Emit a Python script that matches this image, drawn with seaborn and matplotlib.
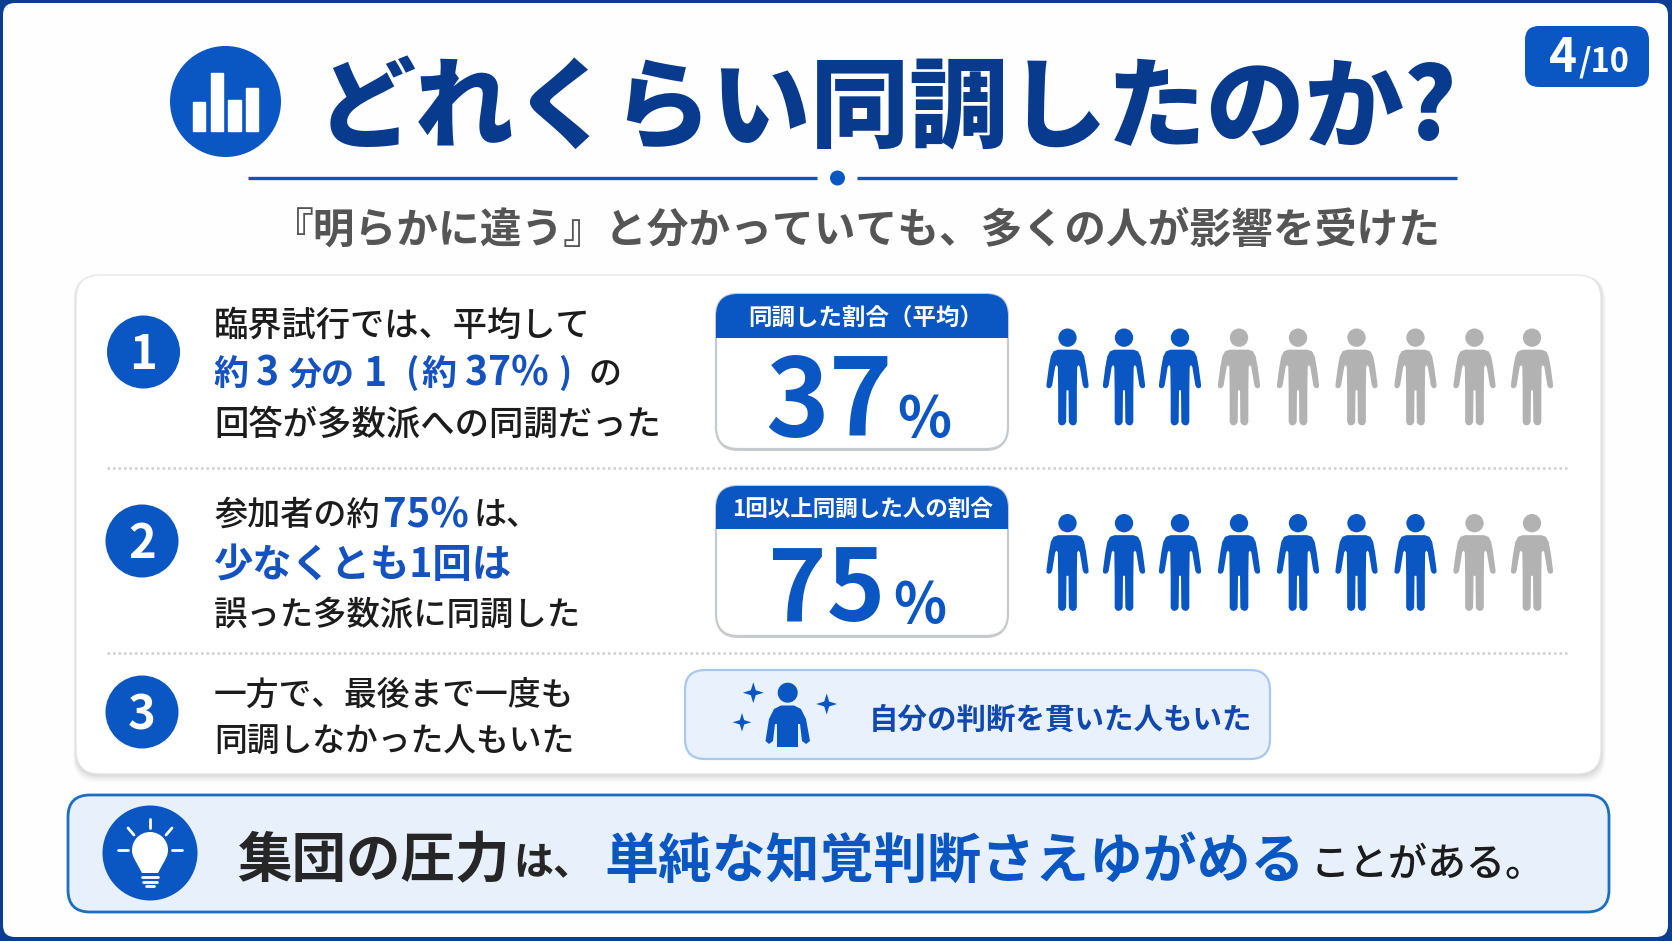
import numpy as np
import pandas as pd
import matplotlib
matplotlib.use('Agg')
import matplotlib.pyplot as plt
import seaborn as sns
from matplotlib.patches import FancyBboxPatch, Rectangle, Circle, Polygon
from matplotlib.path import Path

# values
page_now = '4'
page_total = '/10'
title = 'どれくらい同調したのか?'
subtitle = '『明らかに違う』と分かっていても、多くの人が影響を受けた'
stat_labels = ['同調した割合（平均）', '1回以上同調した人の割合']
stat_values = [37, 75]
people_on = [3, 7]
people_total = 9
icon_bars = [29, 58, 31, 43]

sns.set_theme(style='white')
plt.rcParams['font.family'] = ['Noto Sans CJK JP', 'DejaVu Sans']

BLUE = '#0a56c2'
TEXTBLUE = '#1452c0'
NAVY = '#083a8e'
GREY = '#b2b2b2'
DARK = '#1c1c1c'

fig = plt.figure(figsize=(16.72, 9.41), dpi=100, facecolor='#0b3d91')
ax = fig.add_axes([0, 0, 1, 1])
ax.set_xlim(0, 1672)
ax.set_ylim(941, 0)
ax.axis('off')
renderer = fig.canvas.get_renderer()


def box(x0, y0, x1, y1, r, fc, ec='none', lw=0, z=1, **kw):
    p = FancyBboxPatch((x0 + r, y0 + r), x1 - x0 - 2 * r, y1 - y0 - 2 * r,
                       boxstyle=f'round,pad={r},rounding_size={r}',
                       fc=fc, ec=ec, lw=lw, zorder=z, **kw)
    ax.add_patch(p)
    return p


# text placed by its left/right ink edges, the font size follows from the width
def put(x0, x1, y, s, color, weight='bold', baseline=False, z=10):
    t = ax.text(x0, y, s, color=color, fontweight=weight, fontsize=20, va='baseline', ha='left', zorder=z)
    w = t.get_window_extent(renderer).width
    em = 20 * (x1 - x0) / w * 100 / 72
    # side bearings of the glyphs are part of the measured width
    size = 20 * (x1 - x0 + 0.1 * em) / w
    t.set_fontsize(size)
    t.set_x(x0 - 0.06 * em)
    if not baseline:
        t.set_y(y + 0.38 * size * 100 / 72)
    return t


# same, with the em size given in pixels
def fixed(x0, y, s, color, em, weight='medium', z=10):
    return ax.text(x0 - 0.06 * em, y + 0.38 * em, s, color=color, fontweight=weight, fontsize=em * 0.72,
                   va='baseline', ha='left', zorder=z)


box(3, 3, 1668, 937, 12, '#fefefe', z=0)

# title block
ax.add_patch(Circle((225.5, 101.5), 55.5, fc=BLUE, ec='none', zorder=2))
bar_x = [192.5, 210.5, 228, 245.5]
ax.bar(bar_x, icon_bars, width=12.5, bottom=[131 - v for v in icon_bars], align='edge', color='white', zorder=3)
put(323, 1453, 102, title, NAVY, 'black')
ax.plot([248, 817], [178, 178], color=BLUE, lw=2.4, solid_capstyle='butt', zorder=2)
ax.plot([857, 1457], [178, 178], color=BLUE, lw=2.4, solid_capstyle='butt', zorder=2)
ax.add_patch(Circle((837.5, 178), 7.5, fc=BLUE, ec='none', zorder=2))
put(274, 1437, 227, subtitle, '#555555', 'bold')

# page badge
box(1525, 26, 1649, 87, 14, BLUE, z=2)
put(1551, 1575, 72, page_now, 'white', 'bold', baseline=True)
put(1580, 1628, 71, page_total, 'white', 'bold', baseline=True)

# main card with soft shadow
for i, a in zip([9, 7, 5, 3, 1], [0.03, 0.04, 0.05, 0.07, 0.1]):
    box(76 - i * 0.3, 275 + i * 0.1, 1601 + i * 0.5, 774 + i * 0.9, 24, '#555555', z=1, alpha=a)
box(76, 275, 1601, 774, 24, 'white', ec='#e4e6e9', lw=1, z=1.5)
for y in [468, 652.5]:
    ax.plot([107, 1568], [y, y], color='#cfcfcf', lw=1.8, ls=(0, (1, 1.2)), zorder=2)

# numbered circles
for cx, cy, n in [(143.5, 352, '1'), (142, 541, '2'), (142, 712, '3')]:
    ax.add_patch(Circle((cx, cy), 36.5, fc=BLUE, ec='none', zorder=2))
    ax.text(cx, cy + 17, n, color='white', fontweight='bold', fontsize=34, ha='center', va='baseline', zorder=3)

# row 1 text
put(216, 589, 323, '臨界試行では、平均して', DARK, 'medium')
fixed(216, 372, '約', TEXTBLUE, 35, 'bold')
fixed(258, 371, '3', TEXTBLUE, 39, 'bold')
fixed(291, 372, '分の', TEXTBLUE, 33, 'bold')
fixed(366, 371, '1', TEXTBLUE, 39, 'bold')
fixed(408, 371, '(', TEXTBLUE, 35, 'bold')
fixed(424, 372, '約', TEXTBLUE, 35, 'bold')
fixed(467, 371, '37%', TEXTBLUE, 39, 'bold')
fixed(560, 371, ')', TEXTBLUE, 35, 'bold')
fixed(590, 372, 'の', DARK, 33)
put(216, 659, 422, '回答が多数派への同調だった', DARK, 'medium')
# row 2 text
put(216, 378, 512, '参加者の約', DARK, 'medium')
put(385, 467, 512, '75%', TEXTBLUE, 'bold')
fixed(475, 512, 'は、', DARK, 33)
put(216, 510, 562, '少なくとも1回は', TEXTBLUE, 'bold')
put(216, 579, 612, '誤った多数派に同調した', DARK, 'medium')
# row 3 text
put(216, 573, 692, '一方で、最後まで一度も', DARK, 'medium')
put(216, 573, 738, '同調しなかった人もいた', DARK, 'medium')

# stat cards
card_tops = [294, 486]
card_bottoms = [449, 636]
head_bottoms = [338, 529]
label_x = [(750, 982), (733, 992)]
label_y = [316, 507]
num_x = [(771, 889), (773, 881)]
pct_x = [(900, 949), (896, 944)]
bases = [435.5, 621.5]
for i in range(2):
    box(716, card_tops[i] + 2, 1008, card_bottoms[i] + 2, 22, '#9a9a9a', z=2, alpha=0.5)
    box(716, card_tops[i], 1008, card_bottoms[i], 22, 'white', ec='#c6cacf', lw=1.6, z=3)
    head = box(716, card_tops[i], 1008, card_bottoms[i], 22, BLUE, z=4)
    head.set_clip_path(Rectangle((700, card_tops[i] - 5), 320, head_bottoms[i] - card_tops[i] + 5, transform=ax.transData))
    put(label_x[i][0], label_x[i][1], label_y[i], stat_labels[i], 'white', 'bold')
    put(num_x[i][0], num_x[i][1], bases[i], str(stat_values[i]), BLUE, 'bold', baseline=True)
    put(pct_x[i][0], pct_x[i][1], bases[i], '%', BLUE, 'bold', baseline=True)

# pictogram rows, person marker drawn y-up around its centre
half = np.array([[0, 82], [28, 82], [42, 77], [50, 62], [56, 30], [63, -22], [63, -30], [57, -34], [50, -32],
                 [46, -25], [37, 30], [33, 36], [29, 30], [28, -40], [28, -135], [24, -143], [16, -145.5],
                 [8, -142], [4, -135], [3, -40], [0, -40]], dtype=float)
body_v = np.vstack([half, half[-2:0:-1] * [-1, 1]])
body = Path(np.vstack([body_v, body_v[:1]]), closed=True)
head_c = Path.circle((0, 118), 27.5)
person = Path.make_compound_path(head_c, body)

slot_x = [1067.5, 1124, 1180, 1239, 1298, 1356.5, 1415.5, 1474.5, 1532]
row_y = [377, 562.5]
records = []
for r in range(2):
    for k in range(people_total):
        records.append({'x': slot_x[k], 'y': row_y[r], 'state': 'on' if k < people_on[r] else 'off'})
people = pd.DataFrame(records)
sns.scatterplot(data=people, x='x', y='y', hue='state', palette={'on': BLUE, 'off': GREY}, marker=person,
                s=4878, linewidth=0, legend=False, ax=ax, zorder=5)

# row 3 callout
box(685, 670, 1270, 759, 20, '#e9f2fc', ec='#a9c8ee', lw=1.6, z=2)
put(871, 1251, 718, '自分の判断を貫いた人もいた', '#1148b0', 'bold')
ax.add_patch(Circle((787.7, 692.7), 10, fc=BLUE, ec='none', zorder=4))
ax.add_patch(Polygon([(777, 747), (798, 747), (798, 724), (800, 724), (802, 741), (806, 744), (810, 741), (806, 719),
                      (801, 709), (794, 705.5), (781, 705.5), (774, 709), (769, 719), (765.5, 741), (769, 744),
                      (773, 741), (775, 724), (777, 724)], fc=BLUE, ec='none', zorder=4))
t4 = np.linspace(0, 2 * np.pi, 9)[:-1]
rad = np.where(np.arange(8) % 2 == 0, 1, 0.33)
sparkle = Path(np.c_[rad * np.sin(t4), rad * np.cos(t4)])
spark_x = [753.3, 826.7, 742]
spark_y = [692.7, 704, 722.3]
spark_s = [230, 230, 180]
ax.scatter(spark_x, spark_y, marker=sparkle, s=spark_s, color=BLUE, linewidth=0, zorder=4)

# bottom banner
box(68, 795, 1609, 912, 22, '#e8f1fb', ec='#1a6fc4', lw=2, z=2)
ax.add_patch(Circle((150, 853), 47.5, fc=BLUE, ec='none', zorder=3))
ax.add_patch(Circle((150, 850), 18, fc='white', ec='none', zorder=4))
ax.add_patch(Polygon([(135, 860), (165, 860), (158, 873), (142, 873)], fc='white', ec='none', zorder=4))
for xs, ys in [([150, 150], [819, 828]), ([128, 134], [828, 835]), ([172, 166], [828, 835]),
               ([118, 128], [850, 850]), ([172, 182], [850, 850]), ([142, 158], [876.5, 876.5]),
               ([143, 157], [881.5, 881.5]), ([146, 154], [886, 886])]:
    ax.plot(xs, ys, color='white', lw=2, solid_capstyle='round', zorder=4)
put(240, 507, 857, '集団の圧力', '#262626', 'bold')
fixed(516, 859, 'は、', '#262626', 40, 'bold')
put(608, 1303, 857, '単純な知覚判断さえゆがめる', BLUE, 'bold')
fixed(1313, 861, 'ことがある。', DARK, 39)

ax.set_xlim(0, 1672)
ax.set_ylim(941, 0)
fig.savefig('out.png', dpi=100)
